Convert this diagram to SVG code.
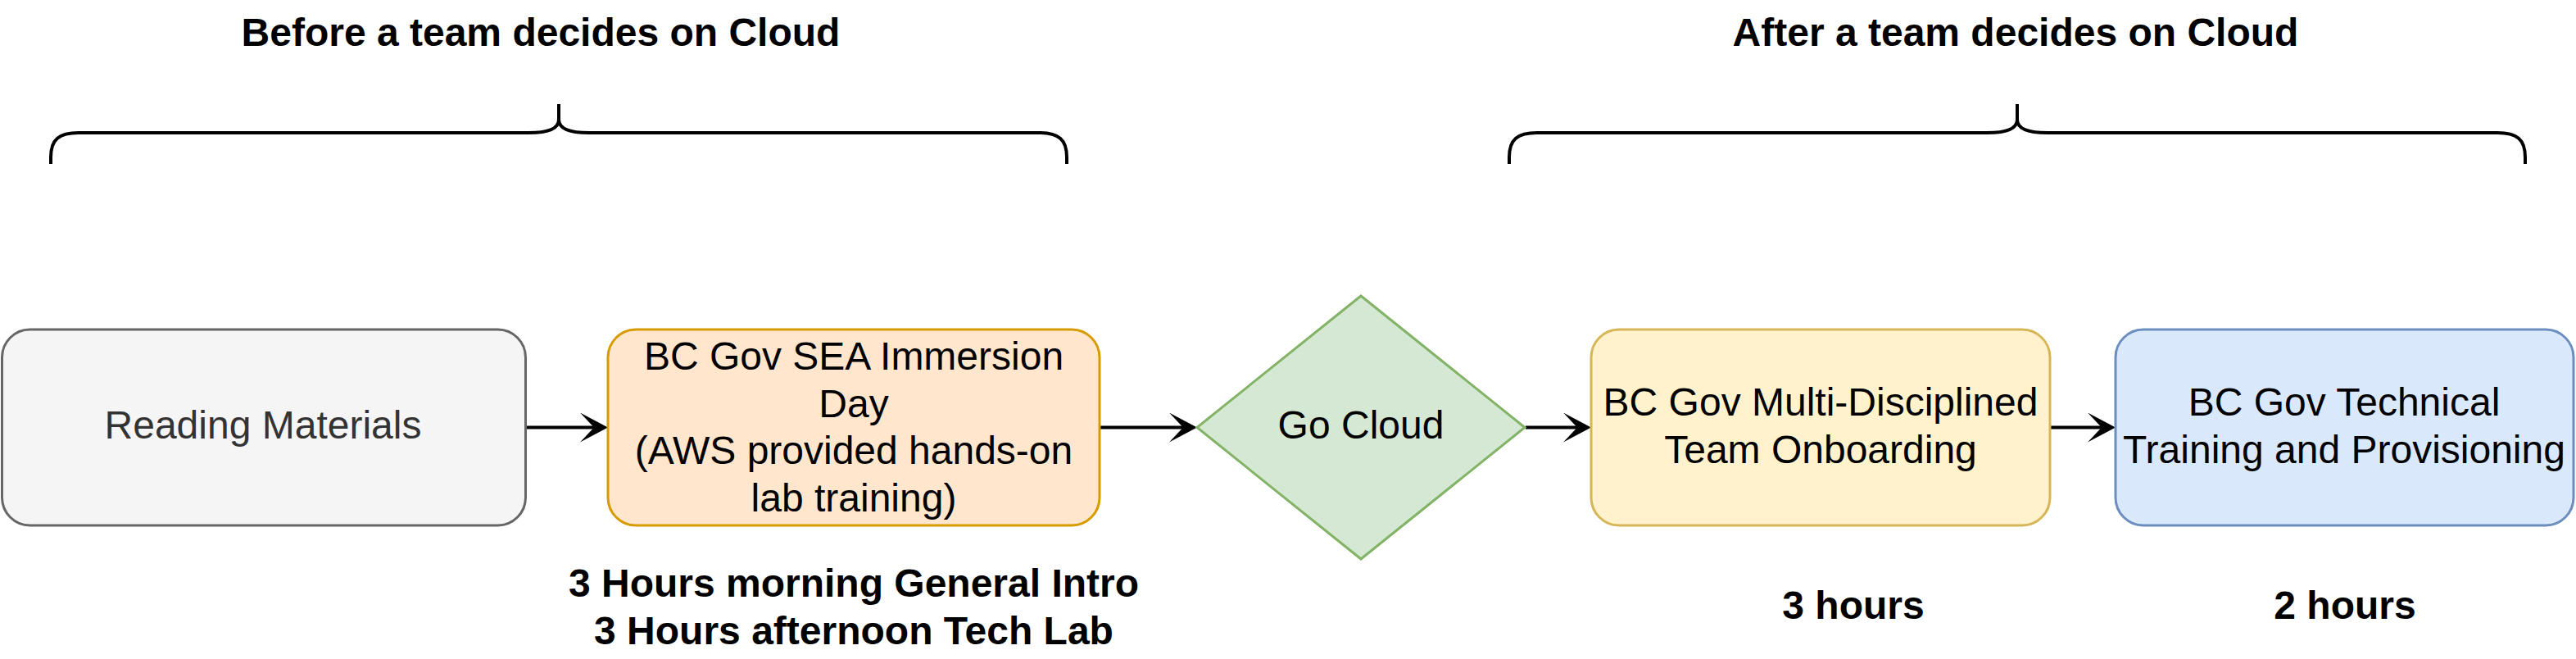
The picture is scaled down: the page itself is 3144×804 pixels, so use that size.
<svg xmlns="http://www.w3.org/2000/svg" width="3144" height="804" viewBox="0 0 3144 804">
  <style>
    .t { font-family: "Liberation Sans", Arial, Helvetica, sans-serif; font-size: 48px; text-anchor: middle; fill: #000000; }
    .b { font-weight: bold; }
    .brace { fill: none; stroke: #000000; stroke-width: 4; }
    .conn { stroke: #000000; stroke-width: 4; fill: none; }
  </style>
  <defs>
    <marker id="arrow" markerUnits="userSpaceOnUse" markerWidth="34" markerHeight="36" refX="17" refY="18" orient="auto">
      <path d="M0,0 L34,18 L0,36 L17,18 Z" fill="#000000"/>
    </marker>
  </defs>
  <rect width="3144" height="804" fill="#ffffff"/>

  <g id="title-before">
    <text class="t b" x="660" y="56">Before a team decides on Cloud</text>
  </g>
  <g id="title-after">
    <text class="t b" x="2460" y="56">After a team decides on Cloud</text>
  </g>

  <g id="brace-before">
    <path class="brace" d="M62,200 L62,192 C62,170 72,162 96,162 L645,162 C670,162 682,156 682,146 L682,127 M682,146 C682,156 694,162 719,162 L1268,162 C1292,162 1302,170 1302,192 L1302,200"/>
  </g>
  <g id="brace-after">
    <path class="brace" d="M1842,200 L1842,192 C1842,170 1852,162 1876,162 L2425,162 C2450,162 2462,156 2462,146 L2462,127 M2462,146 C2462,156 2474,162 2499,162 L3048,162 C3072,162 3082,170 3082,192 L3082,200"/>
  </g>

  <g id="connectors">
    <line class="conn" x1="642" y1="521.5" x2="725" y2="521.5" marker-end="url(#arrow)"/>
    <line class="conn" x1="1342" y1="521.5" x2="1444" y2="521.5" marker-end="url(#arrow)"/>
    <line class="conn" x1="1862" y1="521.5" x2="1925" y2="521.5" marker-end="url(#arrow)"/>
    <line class="conn" x1="2502" y1="521.5" x2="2565" y2="521.5" marker-end="url(#arrow)"/>
  </g>

  <g id="node-reading">
    <rect x="2.5" y="402" width="639" height="239" rx="34" ry="34" fill="#f5f5f5" stroke="#666666" stroke-width="3"/>
    <text class="t" x="321" y="535" fill="#333333" style="fill:#333333">Reading Materials</text>
  </g>

  <g id="node-sea">
    <rect x="742" y="402" width="600" height="239" rx="34" ry="34" fill="#ffe6cc" stroke="#d79b00" stroke-width="3"/>
    <text class="t" x="1042" y="451">BC Gov SEA Immersion</text>
    <text class="t" x="1042" y="508.5">Day</text>
    <text class="t" x="1042" y="566">(AWS provided hands-on</text>
    <text class="t" x="1042" y="623.5">lab training)</text>
  </g>

  <g id="label-sea-hours">
    <text class="t b" x="1042" y="728">3 Hours morning General Intro</text>
    <text class="t b" x="1042" y="786">3 Hours afternoon Tech Lab</text>
  </g>

  <g id="node-gocloud">
    <polygon points="1661,361 1861,521.5 1661,682 1461,521.5" fill="#d5e8d4" stroke="#82b366" stroke-width="3"/>
    <text class="t" x="1661" y="535">Go Cloud</text>
  </g>

  <g id="node-onboarding">
    <rect x="1942" y="402" width="560" height="239" rx="34" ry="34" fill="#fff2cc" stroke="#d6b656" stroke-width="3"/>
    <text class="t" x="2222" y="507">BC Gov Multi-Disciplined</text>
    <text class="t" x="2222" y="565">Team Onboarding</text>
  </g>

  <g id="label-onboarding-hours">
    <text class="t b" x="2262" y="755">3 hours</text>
  </g>

  <g id="node-technical">
    <rect x="2582" y="402" width="559" height="239" rx="34" ry="34" fill="#dae8fc" stroke="#6c8ebf" stroke-width="3"/>
    <text class="t" x="2861" y="507">BC Gov Technical</text>
    <text class="t" x="2861" y="565">Training and Provisioning</text>
  </g>

  <g id="label-technical-hours">
    <text class="t b" x="2862" y="755">2 hours</text>
  </g>
</svg>
